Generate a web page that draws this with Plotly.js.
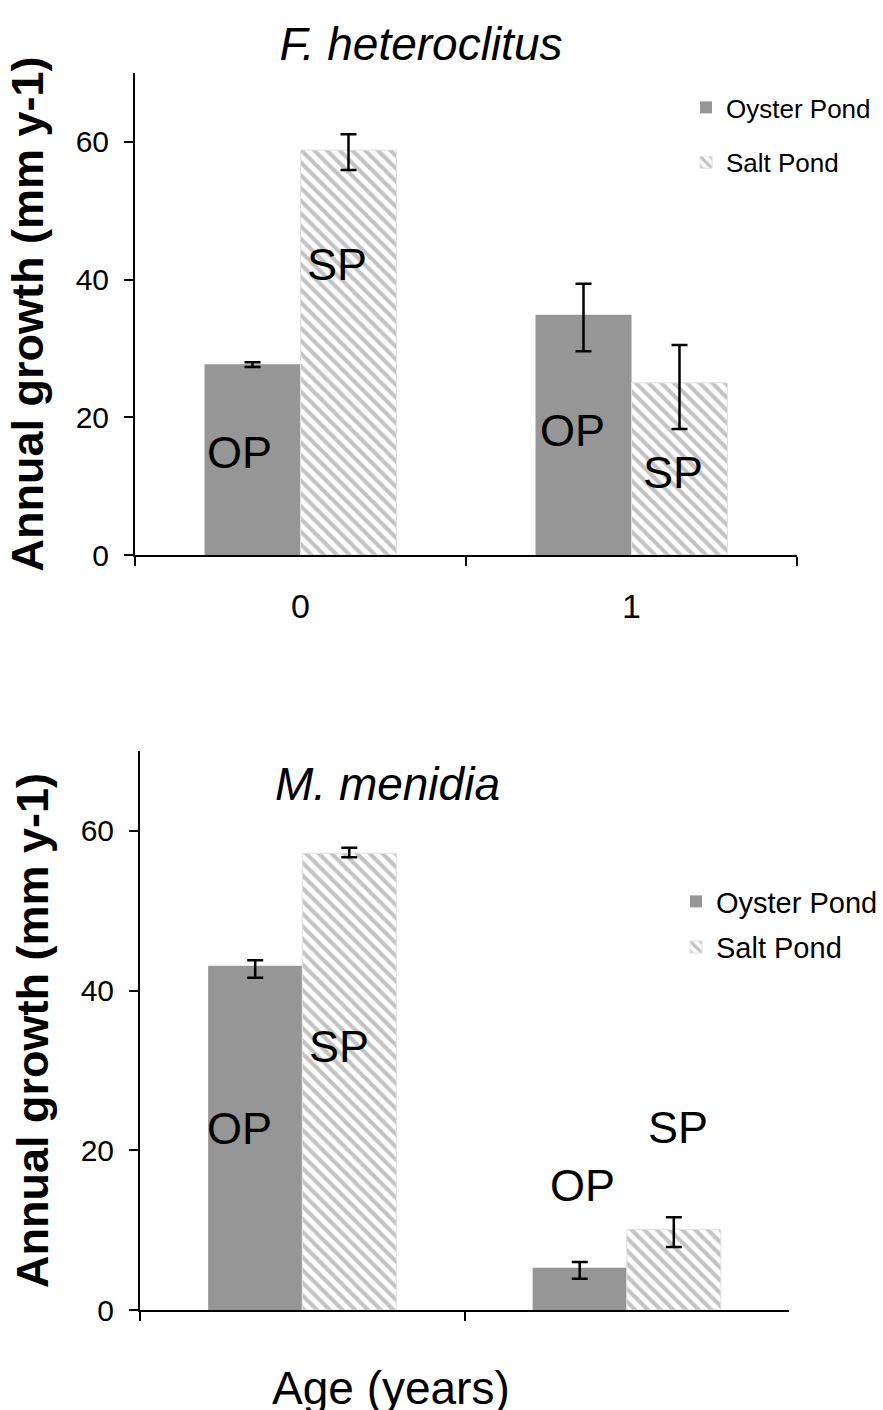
<!DOCTYPE html>
<html>
<head>
<meta charset="utf-8">
<script src="https://cdn.plot.ly/plotly-3.0.1.min.js"></script>
<style>html,body{margin:0;padding:0;background:#fff;}#chart{width:883px;height:1410px;}</style>
</head>
<body>
<div id="chart"></div>
<script>
// ---- data ----
const categories = ["0", "1"];
const seriesNames = ["Oyster Pond", "Salt Pond"];
// F. heteroclitus
const fhOyster = [27.7, 34.9];
const fhOysterErrPlus = [0.3, 4.5];
const fhOysterErrMinus = [0.4, 5.3];
const fhSalt = [58.8, 25.0];
const fhSaltErrPlus = [2.3, 5.5];
const fhSaltErrMinus = [2.9, 6.7];
// M. menidia
const mmOyster = [43.1, 5.3];
const mmOysterErrPlus = [0.7, 0.7];
const mmOysterErrMinus = [1.5, 1.4];
const mmSalt = [57.2, 10.1];
const mmSaltErrPlus = [0.7, 1.5];
const mmSaltErrMinus = [0.5, 2.2];
const yTicks = [0, 20, 40, 60];
const titleTop = "F. heteroclitus";
const titleBottom = "M. menidia";
const yTitle = "Annual growth (mm y-1)";
const xTitle = "Age (years)";

// ---- helpers ----
const W = 883, H = 1410;
const px = v => v / W;
const py = v => 1 - v / H;
const FONT = "Liberation Sans, Arial, sans-serif";
const OP_COLOR = "#969696";
const SP_PATTERN = {shape: "\\", fgcolor: "#c3c3c3", bgcolor: "#ffffff", size: 9, solidity: 0.45};

function errBar(plus, minus) {
  return {type: "data", symmetric: false, array: plus, arrayminus: minus,
          color: "#000", thickness: 2.5, width: 8};
}

const traces = [
  {type: "bar", x: categories, y: fhOyster, name: seriesNames[0], xaxis: "x", yaxis: "y",
   marker: {color: OP_COLOR, line: {width: 0}}, error_y: errBar(fhOysterErrPlus, fhOysterErrMinus),
   legend: "legend", legendgroup: "a1"},
  {type: "bar", x: categories, y: fhSalt, name: seriesNames[1], xaxis: "x", yaxis: "y",
   marker: {color: "#ffffff", pattern: SP_PATTERN, line: {color: "#e2e2e2", width: 1}},
   error_y: errBar(fhSaltErrPlus, fhSaltErrMinus), legend: "legend", legendgroup: "a2"},
  {type: "bar", x: categories, y: mmOyster, name: seriesNames[0], xaxis: "x2", yaxis: "y2",
   marker: {color: OP_COLOR, line: {width: 0}}, error_y: errBar(mmOysterErrPlus, mmOysterErrMinus),
   legend: "legend2", legendgroup: "b1"},
  {type: "bar", x: categories, y: mmSalt, name: seriesNames[1], xaxis: "x2", yaxis: "y2",
   marker: {color: "#ffffff", pattern: SP_PATTERN, line: {color: "#e2e2e2", width: 1}},
   error_y: errBar(mmSaltErrPlus, mmSaltErrMinus), legend: "legend2", legendgroup: "b2"}
];

const xCommon = {type: "category", showline: true, linecolor: "#000", linewidth: 2,
  ticks: "outside", tickson: "boundaries", ticklen: 9, tickwidth: 2, tickcolor: "#000",
  tickfont: {family: FONT, size: 34, color: "#000"}, ticklabelstandoff: 20,
  showgrid: false, zeroline: false, range: [-0.5, 1.5], fixedrange: true};
const yCommon = {range: [0, 70], tickvals: yTicks, ticktext: yTicks.map(String),
  showline: true, linecolor: "#000", linewidth: 2, ticks: "outside", ticklen: 9, tickwidth: 2,
  tickcolor: "#000", tickfont: {family: FONT, size: 30, color: "#000"}, ticklabelstandoff: 9,
  showgrid: false, zeroline: false, fixedrange: true};

const labelFont = {family: FONT, size: 45, color: "#000"};
function lab(text, cx, cy) {
  return {text: text, xref: "paper", yref: "paper", x: px(cx), y: py(cy),
    xanchor: "center", yanchor: "middle", showarrow: false, font: labelFont};
}

const yTitleObj = {text: "<b>" + yTitle + "</b>", standoff: 18, font: {family: FONT, size: 45, color: "#000"}};

const layout = {
  width: W, height: H,
  margin: {l: 0, r: 0, t: 0, b: 0},
  paper_bgcolor: "#fff", plot_bgcolor: "rgba(0,0,0,0)",
  font: {family: FONT, color: "#000"},
  barmode: "group", bargap: 0.42, bargroupgap: 0,
  showlegend: true,
  title: {text: titleTop, x: px(421), xanchor: "center", y: py(44), yanchor: "middle",
    font: {family: FONT, size: 46, style: "italic", color: "#000"}},
  xaxis: Object.assign({}, xCommon, {domain: [px(135), px(797)], anchor: "y"}),
  yaxis: Object.assign({}, yCommon, {domain: [py(555), py(73)], anchor: "x", title: yTitleObj}),
  xaxis2: Object.assign({}, xCommon, {domain: [px(140), px(789)], anchor: "y2"}),
  yaxis2: Object.assign({}, yCommon, {domain: [py(1310), py(751)], anchor: "x2", title: yTitleObj}),
  legend: {x: px(686), y: py(84), xanchor: "left", yanchor: "top", traceorder: "grouped",
    tracegroupgap: 18, bgcolor: "rgba(0,0,0,0)", itemwidth: 30,
    font: {family: FONT, size: 26, color: "#000"}},
  legend2: {x: px(676), y: py(876), xanchor: "left", yanchor: "top", traceorder: "grouped",
    tracegroupgap: 5, bgcolor: "rgba(0,0,0,0)", itemwidth: 30,
    font: {family: FONT, size: 29, color: "#000"}},
  shapes: [
    {type: "rect", xref: "paper", yref: "paper", x0: 0, x1: 1, y0: 0, y1: py(1349),
     fillcolor: "#ffffff", line: {width: 0}, layer: "above"}
  ],
  annotations: [
    lab("OP", 240, 453), lab("SP", 337, 264), lab("OP", 572, 430), lab("SP", 673, 472),
    lab("OP", 240, 1128), lab("SP", 339, 1046), lab("OP", 582, 1185), lab("SP", 678, 1127),
    {text: titleBottom, xref: "paper", yref: "paper", x: px(387), y: py(784), xanchor: "center",
     yanchor: "middle", showarrow: false, font: {family: FONT, size: 46, style: "italic", color: "#000"}},
    {text: xTitle, xref: "paper", yref: "paper", x: px(391), y: py(1388), xanchor: "center",
     yanchor: "middle", showarrow: false, font: {family: FONT, size: 46, color: "#000"}}
  ]
};

Plotly.newPlot("chart", traces, layout, {staticPlot: true, displayModeBar: false});
</script>
</body>
</html>
